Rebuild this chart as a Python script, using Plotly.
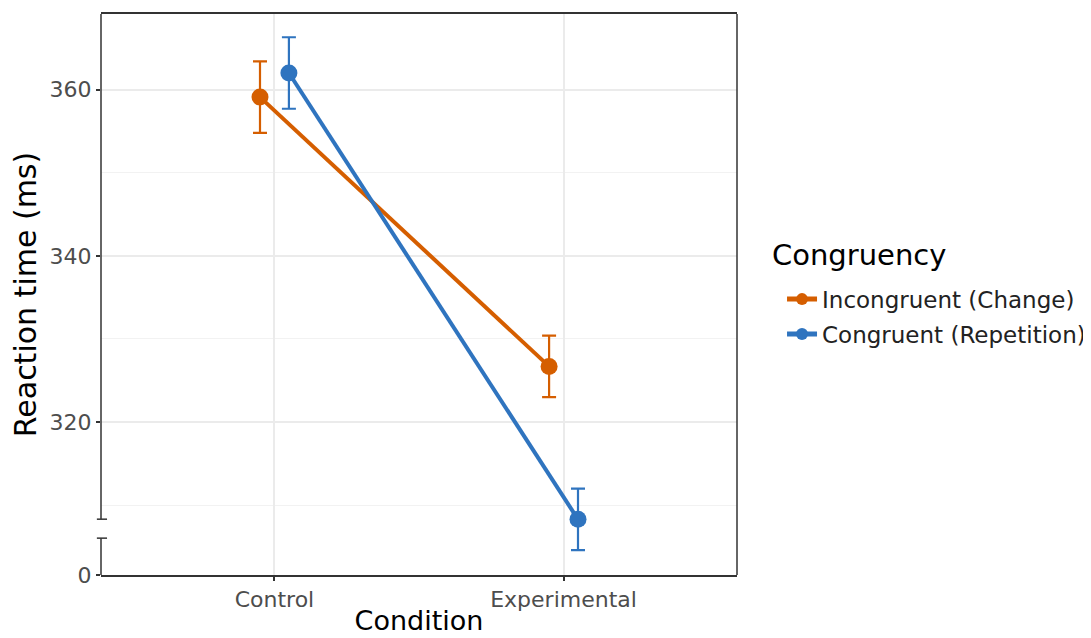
import plotly.graph_objects as go

conditions = ["Control", "Experimental"]
series_names = ["Incongruent (Change)", "Congruent (Repetition)"]
legend_title = "Congruency"
incong_mean = [359.1, 326.7]
incong_err = [4.3, 3.7]
cong_mean = [362.0, 308.3]
cong_err = [4.3, 3.7]
y_tick_vals = [320, 340, 360]
y_minor_vals = [310, 330, 350]
zero_label = "0"

colors = ["#D55E00", "#2F74BF"]
dodge = 0.05
y_top = 369.1
y_zero_pos = 301.6  # axis position representing the broken-axis "0"

x_idx = [1, 2]
fig = go.Figure()
for i, (name, mean, err, col, off) in enumerate([
    (series_names[0], incong_mean, incong_err, colors[0], -dodge),
    (series_names[1], cong_mean, cong_err, colors[1], dodge),
]):
    fig.add_trace(go.Scatter(
        x=[v + off for v in x_idx], y=mean, name=name, mode="lines+markers",
        legendgroup=f"g{i}",
        line=dict(color=col, width=4),
        marker=dict(color=col, size=17),
        error_y=dict(type="data", array=err, visible=True, color=col, thickness=2.2, width=7),
    ))

font = "DejaVu Sans"
fig.update_layout(
    width=1091, height=638,
    margin=dict(l=93, r=362, t=4, b=71),
    paper_bgcolor="white", plot_bgcolor="white",
    font=dict(family=font, color="#4d4d4d"),
    showlegend=True,
    legend=dict(
        font=dict(size=23, color="#222222", family=font),
        x=1.0708, y=0.530, xanchor="left", yanchor="top",
        tracegroupgap=2, itemsizing="constant",
    ),
    annotations=[dict(
        text=legend_title, xref="paper", yref="paper", x=1.052, y=0.570,
        xanchor="left", yanchor="middle", showarrow=False,
        font=dict(size=29, color="black", family=font),
    )],
)
fig.update_xaxes(
    range=[0.4, 2.6], tickvals=x_idx, ticktext=conditions,
    showgrid=True, gridcolor="#ebebeb", gridwidth=1.5,
    showline=True, linecolor="#333333", linewidth=1.5, mirror=True,
    ticks="outside", ticklen=4, tickcolor="#333333", tickwidth=1.5,
    tickfont=dict(size=22, color="#4d4d4d"),
    title=dict(text="Condition", font=dict(size=27, color="black"), standoff=0),
    zeroline=False,
)
fig.update_yaxes(
    range=[y_zero_pos, y_top],
    tickvals=[y_zero_pos] + y_tick_vals,
    ticktext=[zero_label] + [str(v) for v in y_tick_vals],
    showgrid=True, gridcolor="#ebebeb", gridwidth=1.5,
    minor=dict(tickvals=y_minor_vals, showgrid=True, gridcolor="#f2f2f2", gridwidth=1, ticks=""),
    showline=False, zeroline=False,
    ticks="outside", ticklen=4, tickcolor="#333333", tickwidth=1.5,
    tickfont=dict(size=22, color="#4d4d4d"),
    title=dict(text="Reaction time (ms)", font=dict(size=30, color="black"), standoff=5),
)

# broken left axis and right border
brk_hi = 0.0995
brk_lo = 0.0657
lc = "#333333"
shapes = [
    dict(type="line", xref="paper", yref="paper", x0=0, x1=0, y0=brk_hi, y1=1, line=dict(color=lc, width=1.5)),
    dict(type="line", xref="paper", yref="paper", x0=0, x1=0, y0=0, y1=brk_lo, line=dict(color=lc, width=1.5)),
    dict(type="line", xref="paper", yref="paper", x0=1, x1=1, y0=0, y1=1, line=dict(color=lc, width=1.5)),
    dict(type="line", xref="paper", yref="paper", x0=-0.0065, x1=0.0095, y0=brk_hi, y1=brk_hi, line=dict(color=lc, width=1.5)),
    dict(type="line", xref="paper", yref="paper", x0=-0.0065, x1=0.0095, y0=brk_lo, y1=brk_lo, line=dict(color=lc, width=1.5)),
]
fig.update_layout(shapes=shapes)

fig.write_html("out.html")
